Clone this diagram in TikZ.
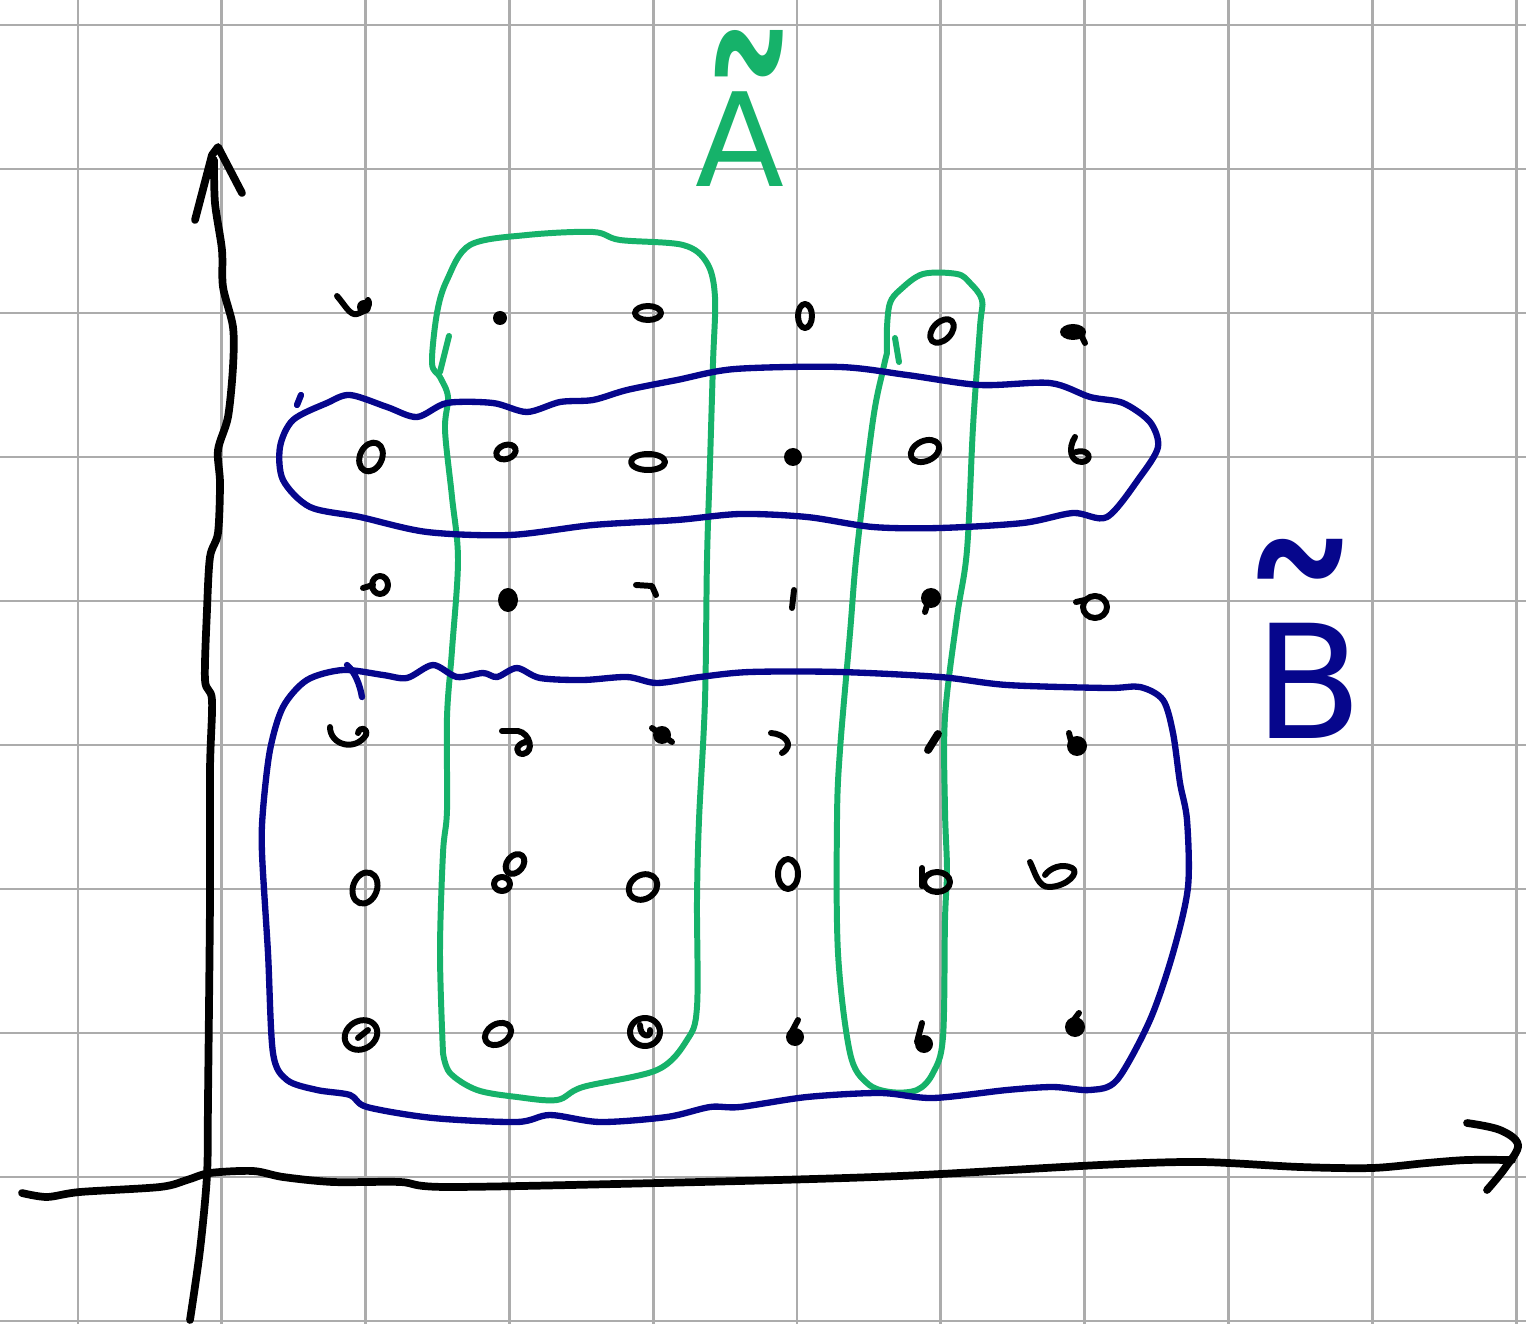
\documentclass[tikz,border=0pt]{standalone}
\usepackage{fontspec}
\usepackage{graphicx}
\newfontfamily\labfont{DejaVu Sans}
\definecolor{gridc}{RGB}{172,172,172}
\definecolor{penG}{RGB}{22,178,106}
\definecolor{penB}{RGB}{6,6,140}
\newcommand{\tilA}{{\labfont\fontsize{120}{120}\selectfont\scalebox{1.0}[1.6]{\char"02DC}}}
\newcommand{\tilB}{{\labfont\fontsize{150}{150}\selectfont\scalebox{1.0}[1.1]{\char"02DC}}}
\begin{document}
\begin{tikzpicture}[x=0.02cm,y=-0.02cm,
 gridline/.style={gridc,line width=1.7pt},
 axisst/.style={black,line width=4.4pt,line cap=round,line join=round},
 gpen/.style={penG,line width=3.4pt,line cap=round,line join=round},
 bpen/.style={penB,line width=3.6pt,line cap=round,line join=round},
 dotst/.style={black,line width=3.4pt,line cap=round,line join=round},
 labst/.style={font=\labfont\fontsize{74}{80}\selectfont, inner sep=0pt, anchor=base}]
\useasboundingbox (0,0) rectangle (1526,1324);
\fill[white] (0,0) rectangle (1526,1324);
% grid
\foreach \i in {0,...,10} {\draw[gridline] ({78+143.8*\i},0) -- ({78+143.8*\i},1324);}
\foreach \j in {0,...,9} {\draw[gridline] (0,{25+144*\j}) -- (1526,{25+144*\j});}

% green outlines (A)
\draw[gpen] plot[smooth, tension=0.55] coordinates {(443,1053) (440,953) (443,853) (447,810) (447,717) (452,650) (458,560) (452,497) (445,430) (448,397) (440,377) (432,363) (437,313) (447,280) (470,245) (527,235) (593,232) (620,240) (683,245) (707,263) (715,297) (713,363) (710,463) (707,560) (705,700) (699,820) (697,900) (697,1007) (687,1040) (657,1070) (583,1087) (557,1100) (517,1097) (477,1090) (450,1073) (443,1053)};
\draw[gpen] (449,336) -- (440,372);
\draw[gpen] plot[smooth, tension=0.55] coordinates {(887,353) (887,327) (890,303) (900,290) (923,274) (957,274) (970,283) (982,300) (980,327) (973,427) (967,550) (957,617) (945,717) (945,810) (947,870) (945,920) (943,1037) (933,1073) (917,1090) (890,1092) (867,1083) (850,1053) (838,953) (837,820) (840,750) (850,633) (857,550) (873,420) (883,370) (887,353)};
\draw[gpen] (895,338) -- (899,362);

% blue outlines (B)
\draw[bpen] plot[smooth cycle, tension=0.5] coordinates {(350,395) (387,407) (417,417) (447,403) (493,403) (527,412) (560,402) (593,400) (627,390) (677,380) (735,369) (840,367) (907,375) (980,385) (1050,383) (1090,397) (1123,403) (1150,422) (1158,447) (1140,477) (1107,517) (1073,513) (1023,523) (940,528) (873,527) (807,517) (740,514) (677,520) (593,525) (510,535) (427,532) (360,517) (310,507) (283,480) (280,447) (293,420) (327,403)};
\draw[bpen] (297,405) -- (301,395);
\draw[bpen] plot[smooth cycle, tension=0.5] coordinates {(343,670) (383,675) (407,678) (433,665) (457,677) (483,673) (497,677) (517,668) (540,678) (583,680) (627,677) (657,683) (700,677) (750,672) (840,672) (940,677) (1007,685) (1107,688) (1140,687) (1163,700) (1173,733) (1180,783) (1187,820) (1188,887) (1173,953) (1150,1020) (1117,1080) (1090,1090) (1053,1087) (1007,1090) (933,1098) (880,1093) (807,1097) (740,1107) (710,1107) (667,1117) (600,1122) (550,1115) (517,1122) (433,1118) (367,1107) (350,1095) (317,1090) (287,1080) (273,1053) (268,953) (262,853) (263,810) (270,750) (283,707) (307,680)};
\draw[bpen] (347,665) .. controls (355,672) and (360,685) .. (362,697);

% axes
\draw[axisst] plot[smooth, tension=0.5] coordinates {(190,1320) (200,1250) (207,1175) (208,1100) (210,900) (210,770) (212,700) (205,680) (207,610) (210,557) (218,533) (220,483) (218,450) (228,417) (233,367) (233,327) (223,287) (222,250) (215,203) (214,160)};
\draw[axisst] (195,220) -- (212,155) -- (218,147) -- (242,193);
\draw[axisst] plot[smooth, tension=0.5] coordinates {(22,1193) (47,1197) (80,1192) (160,1187) (187,1180) (210,1173) (253,1171) (283,1177) (333,1182) (400,1182) (450,1187) (700,1182) (900,1176) (1100,1165) (1200,1162) (1300,1167) (1372,1168) (1427,1163) (1467,1160) (1512,1160)};
\draw[axisst] plot[smooth, tension=0.6] coordinates {(1467,1123) (1500,1130) (1518,1145) (1505,1168) (1487,1190)};

% labels
\node[labst, text=penG] (labA) at (740,187) {\ooalign{A\cr\hidewidth\kern10pt\raisebox{-60pt}{\tilA}\hidewidth\cr}};
\node[labst, text=penB, font=\labfont\fontsize{90}{94}\selectfont] (labB) at (1309,738) {\ooalign{B\cr\hidewidth\raisebox{-15pt}{\tilB}\kern10pt\hidewidth\cr}};

% dots row 1
\draw[dotst] (337,296) .. controls (345,305) and (350,316) .. (357,314) .. controls (364,312) and (372,306) .. (368,300);
\fill (364,307) circle (7);
\fill (500,318) circle (7);
\draw[dotst] (648,313) ellipse [x radius=13, y radius=7];
\draw[dotst] (805,316) ellipse [x radius=7, y radius=12];
\draw[dotst] (942,331) ellipse [x radius=14, y radius=9, rotate=45];
\fill (1073,332) ellipse [x radius=13, y radius=8];
\draw[dotst] (1080,333) -- (1085,343);
% row 2
\draw[dotst] (371,457) ellipse [x radius=11, y radius=15, rotate=-25];
\draw[dotst] (506,452) ellipse [x radius=10, y radius=7, rotate=20];
\draw[dotst] (648,462) ellipse [x radius=17, y radius=8];
\fill (793,457) circle (9);
\draw[dotst] (925,451) ellipse [x radius=15, y radius=10, rotate=25];
\draw[dotst] (1075,437) .. controls (1068,448) and (1070,462) .. (1082,462) .. controls (1093,461) and (1090,448) .. (1076,452);
% row 3
\draw[dotst] (380,585) ellipse [x radius=8, y radius=9];
\draw[dotst] (363,588) -- (373,585);
\fill (508,600) ellipse [x radius=10, y radius=12];
\draw[dotst] (636,585) -- (652,586) -- (656,595);
\draw[dotst] (794,590) -- (792,608);
\fill (931,598) circle (10);
\draw[dotst] (928,602) -- (925,612);
\draw[dotst] (1095,607) ellipse [x radius=12, y radius=11];
\draw[dotst] (1076,602) -- (1085,600);
% row 4
\draw[dotst] (330,727) .. controls (330,745) and (355,752) .. (366,735) .. controls (368,728) and (360,726) .. (358,733);
\draw[dotst] (502,731) -- (518,731) .. controls (530,733) and (535,752) .. (523,754) .. controls (515,754) and (515,745) .. (525,742);
\fill (662,735) circle (9);
\draw[dotst] (652,728) -- (672,742);
\draw[dotst] (771,733) .. controls (785,734) and (795,745) .. (782,753);
\draw[dotst, line width=4.5pt] (938,734) -- (928,750);
\fill (1077,746) circle (10);
\draw[dotst] (1069,733) -- (1072,745);
% row 5
\draw[dotst] (365,888) ellipse [x radius=12, y radius=16, rotate=-20];
\draw[dotst] (515,864) ellipse [x radius=11, y radius=8, rotate=50];
\draw[dotst] (502,884) ellipse [x radius=8, y radius=7];
\draw[dotst] (643,887) ellipse [x radius=15, y radius=12, rotate=30];
\draw[dotst] (788,874) ellipse [x radius=10, y radius=15];
\draw[dotst] (937,882) ellipse [x radius=13, y radius=10];
\draw[dotst] (922,868) -- (922,886);
\draw[dotst] (1030,862) .. controls (1035,872) and (1038,888) .. (1050,887) .. controls (1068,886) and (1080,872) .. (1072,868) .. controls (1062,863) and (1050,868) .. (1045,875);
% row 6
\draw[dotst] (361,1035) ellipse [x radius=17, y radius=14, rotate=30];
\draw[dotst] (358,1038) -- (368,1030);
\draw[dotst] (498,1034) ellipse [x radius=14, y radius=10, rotate=30];
\draw[dotst] (645,1032) ellipse [x radius=15, y radius=14];
\draw[dotst] (640,1025) .. controls (640,1038) and (652,1038) .. (650,1030);
\fill (795,1037) circle (9);
\draw[dotst] (798,1020) -- (790,1035);
\fill (924,1044) circle (9);
\draw[dotst] (922,1023) -- (917,1042);
\fill (1075,1027) circle (10);
\draw[dotst] (1079,1013) -- (1070,1025);
\end{tikzpicture}
\end{document}
